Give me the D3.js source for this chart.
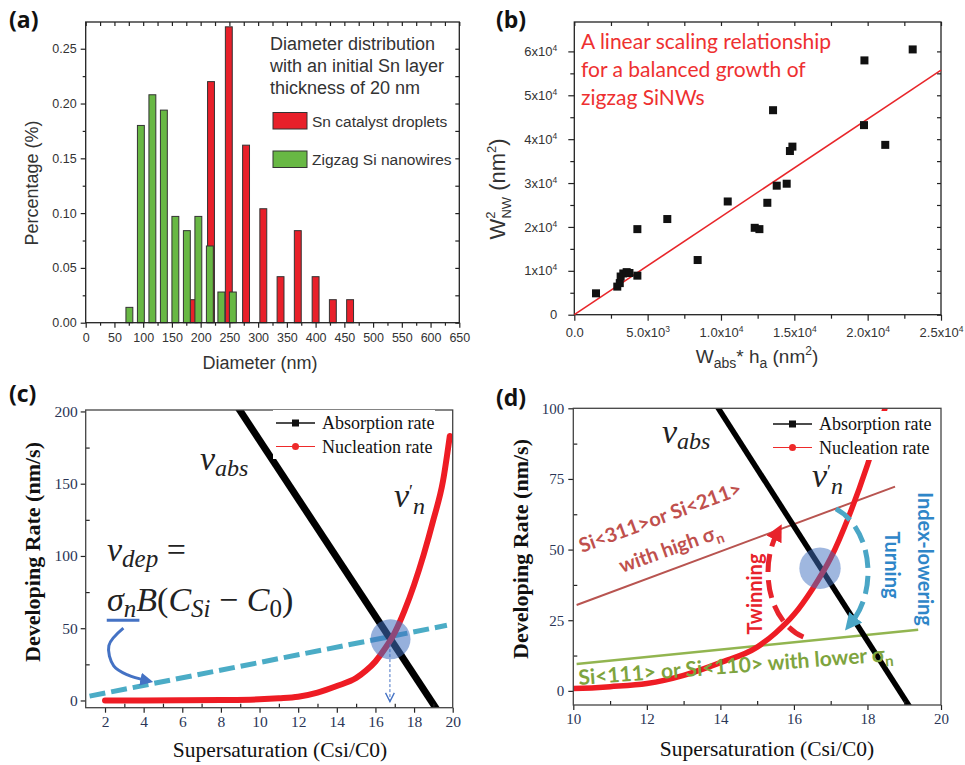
<!DOCTYPE html>
<html>
<head>
<meta charset="utf-8">
<script src="https://cdn.jsdelivr.net/npm/d3@7/dist/d3.min.js"></script>
<style>
body { margin: 0; background: #fff; }
</style>
</head>
<body>
<svg id="fig" width="965" height="765"></svg>
<script>
// ---- (a) diameter distribution ----
var snDiam = [188, 218, 249, 279, 309, 339, 369, 400, 430, 460];
var snPct = [0.021, 0.220, 0.270, 0.162, 0.104, 0.042, 0.084, 0.042, 0.021, 0.021];
var siDiam = [76, 96, 116, 136, 156, 176, 196, 216, 236, 256];
var siPct = [0.014, 0.180, 0.208, 0.194, 0.097, 0.084, 0.097, 0.070, 0.028, 0.028];
var aXTicks = [0, 50, 100, 150, 200, 250, 300, 350, 400, 450, 500, 550, 600, 650];
var aYTicks = [0, 0.05, 0.10, 0.15, 0.20, 0.25];
var aYLabels = ['0.00', '0.05', '0.10', '0.15', '0.20', '0.25'];

// ---- (b) W_NW^2 vs W_abs*h_a ----
var absH = [1480, 2930, 3100, 3160, 3340, 3570, 3760, 4300, 4300, 6340, 8410, 10460, 12300, 12620,
            13160, 13550, 13800, 14480, 14700, 14870, 19750, 19780, 21200, 23070];
var wnw2 = [4870, 6400, 7200, 8700, 9400, 9700, 9500, 8900, 19500, 21800, 12460, 25800, 19800, 19500,
            25500, 46600, 29400, 29850, 37300, 38300, 43200, 57950, 38700, 60450];
var fitX = [0, 25000];
var fitY = [0, 55750];
var bXTicks = [0, 5000, 10000, 15000, 20000, 25000];
var bXLabels = [['0.0'], ['5.0x10', '3'], ['1.0x10', '4'], ['1.5x10', '4'], ['2.0x10', '4'], ['2.5x10', '4']];
var bYTicks = [0, 10000, 20000, 30000, 40000, 50000, 60000];
var bYLabels = [['0'], ['1x10', '4'], ['2x10', '4'], ['3x10', '4'], ['4x10', '4'], ['5x10', '4'], ['6x10', '4']];

// ---- (c), (d) developing rate ----
var absX = [8.9, 19.25];
var absY = [202.4, -7.7];
var nucX = [2, 4, 6, 8, 10, 11, 12, 13, 14, 15, 15.5, 16, 16.5, 17, 17.5, 18, 18.5, 19, 19.5, 19.85];
var nucY = [0, 0, 0.1, 0.3, 0.8, 1.5, 2.6, 5.5, 10, 15.5, 20.5, 27, 36, 47, 62, 80, 101, 125, 152, 183];
var depX = [1.2, 19.7];
var depY = [3, 52];
var highX = [10.09, 18.75];
var highY = [30.4, 72.3];
var lowX = [10.09, 19.38];
var lowY = [9.55, 21.6];
var cXTicks = [2, 4, 6, 8, 10, 12, 14, 16, 18, 20];
var cYTicks = [0, 50, 100, 150, 200];
var dXTicks = [10, 12, 14, 16, 18, 20];
var dYTicks = [0, 25, 50, 75, 100];

var svg = d3.select('#fig');
svg.append('rect').attr('width', 965).attr('height', 765).attr('fill', '#fff');

var SANS = 'Liberation Sans, Arial, sans-serif';
var SERIF = 'Liberation Serif, Times New Roman, serif';
var CAL = 'Lato, Noto Sans, sans-serif';

function mids(t) {
    var m = [];
    for (var i = 0; i < t.length - 1; i++) m.push((t[i] + t[i + 1]) / 2);
    return m;
}

function styleAxis(g, font, size, color) {
    g.select('.domain').remove();
    g.selectAll('line').attr('stroke', '#222').attr('stroke-width', 1.2);
    g.selectAll('text').attr('font-family', font).attr('font-size', size).attr('fill', color);
}

// major + minor ticks; mirror = ticks inside on top/right
function axes(g, x, y, o) {
    var x0 = x.range()[0], x1 = x.range()[1], y0 = y.range()[0], y1 = y.range()[1];
    var bx = g.append('g').attr('transform', 'translate(0,' + y0 + ')')
        .call(d3.axisBottom(x).tickValues(o.xt).tickSize(o.maj).tickPadding(o.xpad)
            .tickFormat(o.xf || null));
    styleAxis(bx, o.font, o.size, o.color);
    var bm = g.append('g').attr('transform', 'translate(0,' + y0 + ')')
        .call(d3.axisBottom(x).tickValues(mids(o.xt)).tickSize(o.minX).tickFormat(''));
    styleAxis(bm, o.font, o.size, o.color);
    var ly = g.append('g').attr('transform', 'translate(' + x0 + ',0)')
        .call(d3.axisLeft(y).tickValues(o.yt).tickSize(o.maj).tickPadding(o.ypad)
            .tickFormat(o.yf || null));
    styleAxis(ly, o.font, o.size, o.color);
    var lm = g.append('g').attr('transform', 'translate(' + x0 + ',0)')
        .call(d3.axisLeft(y).tickValues(o.ymin || mids(o.yt)).tickSize(o.minY).tickFormat(''));
    styleAxis(lm, o.font, o.size, o.color);
    if (o.mirror) {
        var tt = g.append('g').attr('transform', 'translate(0,' + y1 + ')')
            .call(d3.axisTop(x).tickValues(o.xt.concat(mids(o.xt))).tickSize(-4).tickFormat(''));
        styleAxis(tt, o.font, o.size, o.color);
        var rr = g.append('g').attr('transform', 'translate(' + x1 + ',0)')
            .call(d3.axisRight(y).tickValues(o.yt.concat(o.ymin || mids(o.yt))).tickSize(-4).tickFormat(''));
        styleAxis(rr, o.font, o.size, o.color);
    }
    g.append('rect').attr('x', x0).attr('y', y1).attr('width', x1 - x0).attr('height', y0 - y1)
        .attr('fill', 'none').attr('stroke', o.frame || '#222').attr('stroke-width', 1.3);
    return [bx, ly];
}

function supLabels(axisG, labels, ticks, sz) {
    axisG.selectAll('.tick text').each(function (d) {
        var p = labels[ticks.indexOf(d)];
        var t = d3.select(this).text(null);
        t.append('tspan').text(p[0]);
        if (p[1]) t.append('tspan').attr('dy', -5).attr('font-size', sz).text(p[1]);
    });
}

function rich(parent, x, y, parts, attrs) {
    var t = parent.append('text').attr('x', x).attr('y', y);
    Object.keys(attrs).forEach(function (k) { t.attr(k, attrs[k]); });
    parts.forEach(function (p) {
        var s = t.append('tspan').text(p.t);
        if (p.size) s.attr('font-size', p.size);
        if (p.dy) s.attr('dy', p.dy);
        if (p.dx) s.attr('dx', p.dx);
        if (p.st) s.attr('font-style', p.st);
    });
    return t;
}

function panelLabel(x, y, s) {
    svg.append('text').attr('x', x).attr('y', y).text(s)
        .attr('font-family', 'Open Sans, Lato, sans-serif').attr('font-weight', 'bold')
        .attr('font-size', 23).attr('fill', '#111');
}

// arrow markers
var defs = svg.append('defs');
function marker(id, color, w, open) {
    defs.append('marker').attr('id', id).attr('viewBox', '0 0 10 10')
        .attr('refX', open ? 9 : 4).attr('refY', 5).attr('markerUnits', 'userSpaceOnUse')
        .attr('markerWidth', w).attr('markerHeight', w).attr('orient', 'auto')
        .append('path').attr('d', open ? 'M1,1 L9,5 L1,9' : 'M0,0 L10,5 L0,10 z')
        .attr('fill', open ? 'none' : color).attr('stroke', open ? color : 'none')
        .attr('stroke-width', open ? 1.2 : 0);
}
marker('arrRed', '#e8232b', 17);
marker('arrBlue', '#4aa6c6', 17);
marker('arrNavy', '#4472c4', 13);
marker('arrOpen', '#4472c4', 11, true);

// ================= (a) =================
var ga = svg.append('g');
var xa = d3.scaleLinear().domain([0, 650]).range([85.7, 459.3]);
var ya = d3.scaleLinear().domain([0, 0.2744]).range([322.7, 22]);
var barW = 12;
ga.selectAll('rect.sn').data(snDiam).join('rect').attr('class', 'sn')
    .attr('x', function (d) { return xa(d - barW / 2); })
    .attr('y', function (d, i) { return ya(snPct[i]); })
    .attr('width', xa(barW) - xa(0))
    .attr('height', function (d, i) { return ya(0) - ya(snPct[i]); })
    .attr('fill', '#e8202a').attr('stroke', '#333').attr('stroke-width', 1);
ga.selectAll('rect.si').data(siDiam).join('rect').attr('class', 'si')
    .attr('x', function (d) { return xa(d - barW / 2); })
    .attr('y', function (d, i) { return ya(siPct[i]); })
    .attr('width', xa(barW) - xa(0))
    .attr('height', function (d, i) { return ya(0) - ya(siPct[i]); })
    .attr('fill', '#68b844').attr('stroke', '#333').attr('stroke-width', 1);
axes(ga, xa, ya, {
    xt: aXTicks, yt: aYTicks, maj: 5, minX: 3, minY: 3, xpad: 5, ypad: 4,
    yf: function (d) { return aYLabels[aYTicks.indexOf(d)]; },
    font: SANS, size: 12.5, color: '#333', mirror: true
});
ga.append('text').attr('transform', 'translate(38,183) rotate(-90)').attr('text-anchor', 'middle')
    .attr('font-family', SANS).attr('font-size', 18).attr('fill', '#333').text('Percentage (%)');
ga.append('text').attr('x', 260).attr('y', 369).attr('text-anchor', 'middle')
    .attr('font-family', SANS).attr('font-size', 18).attr('fill', '#333').text('Diameter (nm)');
['Diameter distribution', 'with an initial Sn layer', 'thickness of 20 nm'].forEach(function (s, i) {
    ga.append('text').attr('x', 270).attr('y', 50 + i * 22).text(s)
        .attr('font-family', SANS).attr('font-size', 18).attr('fill', '#333');
});
[['Sn catalyst droplets', '#e8202a', 112.5], ['Zigzag Si nanowires', '#68b844', 151]].forEach(function (l) {
    ga.append('rect').attr('x', 273).attr('y', l[2]).attr('width', 34).attr('height', 16.5)
        .attr('fill', l[1]).attr('stroke', '#333').attr('stroke-width', 1);
    ga.append('text').attr('x', 312).attr('y', l[2] + 14).text(l[0])
        .attr('font-family', SANS).attr('font-size', 15.5).attr('fill', '#333');
});
panelLabel(9, 28, '(a)');

// ================= (b) =================
var gb = svg.append('g');
var xb = d3.scaleLinear().domain([0, 25000]).range([574.3, 941]);
var yb = d3.scaleLinear().domain([0, 66700]).range([314.7, 22]);
var axB = axes(gb, xb, yb, {
    xt: bXTicks, yt: bYTicks, maj: 6, minX: 4, minY: 4, xpad: 7, ypad: 11,
    font: SANS, size: 13, color: '#333', mirror: true
});
supLabels(axB[0], bXLabels, bXTicks, 8.5);
supLabels(axB[1], bYLabels, bYTicks, 8.5);
gb.append('line').attr('x1', xb(fitX[0])).attr('y1', yb(fitY[0]))
    .attr('x2', xb(fitX[1])).attr('y2', yb(fitY[1]))
    .attr('stroke', '#e8262a').attr('stroke-width', 1.6);
gb.selectAll('rect.pt').data(absH).join('rect').attr('class', 'pt')
    .attr('x', function (d) { return xb(d) - 4; })
    .attr('y', function (d, i) { return yb(wnw2[i]) - 4; })
    .attr('width', 8).attr('height', 8).attr('fill', '#111');
['A linear scaling relationship', 'for a balanced growth of', 'zigzag SiNWs'].forEach(function (s, i) {
    gb.append('text').attr('x', 581).attr('y', 48.5 + i * 28).text(s)
        .attr('font-family', CAL).attr('font-size', 21).attr('fill', '#ee3030');
});
rich(gb, 0, 0, [
    { t: 'W' }, { t: '2', size: 13, dy: -10 }, { t: 'NW', size: 13, dx: -7, dy: 16 },
    { t: ' (nm', dy: -6 }, { t: '2', size: 13, dy: -9 }, { t: ')', dy: 9 }
], { transform: 'translate(505,189) rotate(-90)', 'text-anchor': 'middle', 'font-family': SANS,
     'font-size': 22, fill: '#333' });
rich(gb, 757, 363, [
    { t: 'W' }, { t: 'abs', size: 14, dy: 5 }, { t: '* h', dy: -5 }, { t: 'a', size: 14, dy: 5 },
    { t: ' (nm', dy: -5 }, { t: '2', size: 12, dy: -8 }, { t: ')', dy: 8 }
], { 'text-anchor': 'middle', 'font-family': SANS, 'font-size': 19, fill: '#333' });
panelLabel(496, 28, '(b)');

// ================= (c) =================
var gc = svg.append('g');
var xc = d3.scaleLinear().domain([1, 20]).range([85.7, 452.7]);
var yc = d3.scaleLinear().domain([-5, 201]).range([707.7, 410]);
defs.append('clipPath').attr('id', 'clipC').append('rect')
    .attr('x', 85.7).attr('y', 410).attr('width', 367).attr('height', 297.7);
defs.append('clipPath').attr('id', 'clipD').append('rect')
    .attr('x', 573.3).attr('y', 408.3).attr('width', 367.7).attr('height', 296.7);

var lineC = d3.line().x(function (d) { return xc(d[0]); }).y(function (d) { return yc(d[1]); })
    .curve(d3.curveMonotoneX);
var pc = gc.append('g').attr('clip-path', 'url(#clipC)');
pc.append('path').attr('d', lineC(depX.map(function (v, i) { return [v, depY[i]]; })))
    .attr('fill', 'none').attr('stroke', '#4bacc6').attr('stroke-width', 5)
    .attr('stroke-dasharray', '16,6');
pc.append('path').attr('d', lineC(absX.map(function (v, i) { return [v, absY[i]]; })))
    .attr('fill', 'none').attr('stroke', '#000').attr('stroke-width', 7);
pc.append('path').attr('d', lineC(nucX.map(function (v, i) { return [v, nucY[i]]; })))
    .attr('fill', 'none').attr('stroke', '#ee1c24').attr('stroke-width', 6)
    .attr('stroke-linecap', 'round');
pc.append('circle').attr('cx', xc(16.78)).attr('cy', yc(42.4)).attr('r', 20)
    .attr('fill', '#3f6fc0').attr('opacity', 0.55);
pc.append('line').attr('x1', xc(16.75)).attr('y1', yc(39)).attr('x2', xc(16.75)).attr('y2', yc(-0.8))
    .attr('stroke', '#4472c4').attr('stroke-width', 1).attr('stroke-dasharray', '3,2')
    .attr('marker-end', 'url(#arrOpen)');
axes(gc, xc, yc, {
    xt: cXTicks, yt: cYTicks, maj: 5, minX: -4, minY: -4, xpad: 3, ypad: 3,
    ymin: [25, 75, 125, 175], font: SERIF, size: 15.5, color: '#2a3556', frame: '#444'
});
gc.append('text').attr('transform', 'translate(39.5,552) rotate(-90)').attr('text-anchor', 'middle')
    .attr('font-family', SERIF).attr('font-weight', 'bold').attr('font-size', 22).attr('fill', '#111')
    .text('Developing Rate (nm/s)');
gc.append('text').attr('x', 280).attr('y', 757).attr('text-anchor', 'middle')
    .attr('font-family', SERIF).attr('font-size', 21.5).attr('fill', '#111')
    .text('Supersaturation (Csi/C0)');

function legend(g, x, y, w) {
    g.append('rect').attr('x', x - 3).attr('y', y - 13).attr('width', w).attr('height', 49).attr('fill', '#fff');
    g.append('line').attr('x1', x).attr('x2', x + 39).attr('y1', y).attr('y2', y)
        .attr('stroke', '#111').attr('stroke-width', 1.5);
    g.append('rect').attr('x', x + 16).attr('y', y - 3.5).attr('width', 7).attr('height', 7).attr('fill', '#111');
    g.append('line').attr('x1', x).attr('x2', x + 39).attr('y1', y + 23.5).attr('y2', y + 23.5)
        .attr('stroke', '#ee2a2a').attr('stroke-width', 1);
    g.append('circle').attr('cx', x + 19.5).attr('cy', y + 23.5).attr('r', 3.5).attr('fill', '#ee2a2a');
    g.append('text').attr('x', x + 46).attr('y', y + 6).text('Absorption rate')
        .attr('font-family', SERIF).attr('font-size', 18).attr('fill', '#111');
    g.append('text').attr('x', x + 46).attr('y', y + 29.5).text('Nucleation rate')
        .attr('font-family', SERIF).attr('font-size', 18).attr('fill', '#111');
}
legend(gc, 276, 423, 162);

var MATH = { 'font-family': SERIF, 'font-size': 34, 'font-style': 'italic', fill: '#222' };
// v'_n : prime raised, n lowered right after it
function vPrime(g, x, y) {
    rich(g, x, y, [{ t: 'v' }, { t: '\u2032', size: 18, dy: -9, st: 'normal' },
                   { t: 'n', size: 24, dy: 16 }], MATH);
}
rich(gc, 200, 470, [{ t: 'v' }, { t: 'abs', size: 24, dy: 6 }], MATH);
vPrime(gc, 394, 507);
rich(gc, 107, 561, [{ t: 'v' }, { t: 'dep', size: 25, dy: 6 }, { t: ' =', dy: -6, st: 'normal' }], MATH);
rich(gc, 107, 611, [
    { t: '\u03c3' }, { t: 'n', size: 25, dy: 6 }, { t: 'B', dy: -6 }, { t: '(', st: 'normal' }, { t: 'C' },
    { t: 'Si', size: 25, dy: 6 }, { t: ' \u2212 ', dy: -6, st: 'normal' }, { t: 'C' },
    { t: '0', size: 25, dy: 6, st: 'normal' }, { t: ')', dy: -6, st: 'normal' }
], MATH);
gc.append('line').attr('x1', xc(2.09)).attr('x2', xc(3.78)).attr('y1', yc(55.5)).attr('y2', yc(55.5))
    .attr('stroke', '#4472c4').attr('stroke-width', 3);
var curvPts = [[2.95, 50], [2.2, 38], [2.45, 24], [3.2, 17.5], [4.1, 14]];
gc.append('path').attr('d', d3.line().x(function (d) { return xc(d[0]); }).y(function (d) { return yc(d[1]); })
        .curve(d3.curveCatmullRom)(curvPts))
    .attr('fill', 'none').attr('stroke', '#4472c4').attr('stroke-width', 3).attr('marker-end', 'url(#arrNavy)');
panelLabel(9, 402, '(c)');

// ================= (d) =================
var gd = svg.append('g');
var xd = d3.scaleLinear().domain([10, 20]).range([573.3, 941]);
var yd = d3.scaleLinear().domain([-5, 100]).range([705, 408.3]);
var lineD = d3.line().x(function (d) { return xd(d[0]); }).y(function (d) { return yd(d[1]); })
    .curve(d3.curveMonotoneX);
var pd = gd.append('g').attr('clip-path', 'url(#clipD)');
pd.append('path').attr('d', lineD(highX.map(function (v, i) { return [v, highY[i]]; })))
    .attr('fill', 'none').attr('stroke', '#b85450').attr('stroke-width', 2);
pd.append('path').attr('d', lineD(lowX.map(function (v, i) { return [v, lowY[i]]; })))
    .attr('fill', 'none').attr('stroke', '#92b550').attr('stroke-width', 2.5);
pd.append('path').attr('d', lineD(absX.map(function (v, i) { return [v, absY[i]]; })))
    .attr('fill', 'none').attr('stroke', '#000').attr('stroke-width', 5.5);
pd.append('path').attr('d', lineD(nucX.map(function (v, i) { return [v, nucY[i]]; })))
    .attr('fill', 'none').attr('stroke', '#ee1c24').attr('stroke-width', 5.5);
pd.append('circle').attr('cx', xd(16.71)).attr('cy', yd(43.4)).attr('r', 20.7)
    .attr('fill', '#3f6fc0').attr('opacity', 0.5);

// growth cycle: ellipse around the balance point (data units)
var cyc = { cx: 16.655, cy: 42.0, rx: 1.36, ry: 24.0 };
var cycArcs = [[107, 215, '#e8232b', 'arrRed'], [-69, 48, '#4aa6c6', 'arrBlue']];
var ecx = xd(cyc.cx), ecy = yd(cyc.cy);
var erx = xd(cyc.cx + cyc.rx) - ecx, ery = ecy - yd(cyc.cy + cyc.ry);
cycArcs.forEach(function (a) {
    var t0 = a[0] * Math.PI / 180, t1 = a[1] * Math.PI / 180;
    var d = 'M' + (ecx + erx * Math.cos(t0)) + ',' + (ecy + ery * Math.sin(t0)) +
        ' A' + erx + ',' + ery + ' 0 0 1 ' + (ecx + erx * Math.cos(t1)) + ',' + (ecy + ery * Math.sin(t1));
    gd.append('path').attr('d', d).attr('fill', 'none').attr('stroke', a[2]).attr('stroke-width', 5)
        .attr('stroke-dasharray', '18,8').attr('marker-end', 'url(#' + a[3] + ')');
});

axes(gd, xd, yd, {
    xt: dXTicks, yt: dYTicks, maj: 5, minX: -4, minY: -4, xpad: 3, ypad: 4,
    font: SERIF, size: 15, color: '#2a3556', frame: '#444'
});
gd.append('text').attr('transform', 'translate(528,549) rotate(-90)').attr('text-anchor', 'middle')
    .attr('font-family', SERIF).attr('font-weight', 'bold').attr('font-size', 22).attr('fill', '#111')
    .text('Developing Rate (nm/s)');
gd.append('text').attr('x', 767).attr('y', 756).attr('text-anchor', 'middle')
    .attr('font-family', SERIF).attr('font-size', 21.5).attr('fill', '#111')
    .text('Supersaturation (Csi/C0)');
legend(gd, 773, 424, 166);

rich(gd, 662, 443, [{ t: 'v' }, { t: 'abs', size: 24, dy: 6 }], MATH);
vPrime(gd, 812, 487);

var LBL = { 'font-family': CAL, 'font-weight': 'bold', 'font-size': 20 };
rich(gd, 0, 0, [{ t: 'Si<311>or Si<211>' }],
    Object.assign({ transform: 'translate(582,553) rotate(-20)', fill: '#c0504d' }, LBL));
rich(gd, 0, 0, [{ t: 'with high \u03c3' }, { t: 'n', size: 14, dy: 5 }],
    Object.assign({ transform: 'translate(622,573) rotate(-19.5)', fill: '#c0504d' }, LBL));
rich(gd, 0, 0, [{ t: 'Si<111> or Si<110> with lower \u03c3' }, { t: 'n', size: 15, dy: 5 }],
    Object.assign({ transform: 'translate(579,685) rotate(-4.4)', fill: '#7ea43e' }, LBL, { 'font-size': 21 }));
rich(gd, 0, 0, [{ t: 'Twinning' }],
    Object.assign({ transform: 'translate(762,594) rotate(-90)', 'text-anchor': 'middle', fill: '#e8232b' }, LBL));
rich(gd, 0, 0, [{ t: 'Turning' }],
    Object.assign({ transform: 'translate(885,565) rotate(90)', 'text-anchor': 'middle', fill: '#2f86c8' }, LBL));
rich(gd, 0, 0, [{ t: 'Index-lowering' }],
    Object.assign({ transform: 'translate(918,559) rotate(90)', 'text-anchor': 'middle', fill: '#2f86c8' }, LBL));
panelLabel(496, 406, '(d)');
</script>
</body>
</html>
